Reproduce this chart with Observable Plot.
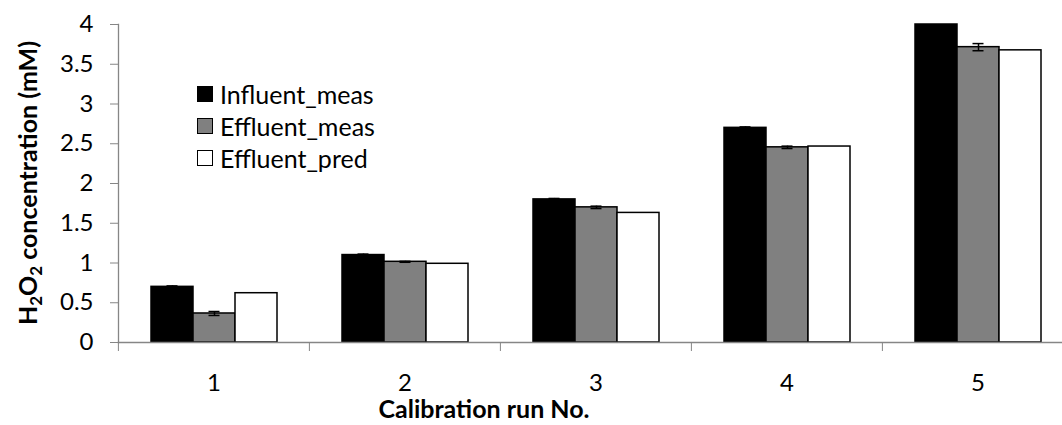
<!DOCTYPE html>
<html><head><meta charset="utf-8">
<script src="https://cdn.jsdelivr.net/npm/d3@7"></script>
<script src="https://cdn.jsdelivr.net/npm/@observablehq/plot@0.6"></script>
<style>
body{margin:0;background:#fff;}
#wrap{position:relative;width:1062px;height:425px;overflow:hidden;font-family:Lato,"Open Sans",sans-serif;color:#000;}
#wrap svg{display:block;}
.ytitle{position:absolute;left:27px;top:183px;transform:translate(-50%,-50%) rotate(-90deg);white-space:nowrap;font-weight:bold;font-size:25px;}
.ytitle sub{font-size:17px;vertical-align:-5px;line-height:0;}
.xtitle{position:absolute;left:484px;top:408px;transform:translate(-50%,-50%);white-space:nowrap;font-weight:bold;font-size:25px;}
.legend{position:absolute;left:197px;top:78px;font-size:25px;}
.legend .row{display:flex;align-items:center;height:32px;}
.legend .sw{width:14px;height:14px;border:1px solid #000;margin-right:7px;}
</style></head><body><div id="wrap"></div>
<script>
const runs = ["1", "2", "3", "4", "5"];
const seriesNames = ["Influent_meas", "Effluent_meas", "Effluent_pred"];
const influentMeas = [0.70, 1.10, 1.80, 2.70, 4.00];
const influentErr = [0.012, 0.012, 0.012, 0.012, 0.02];
const effluentMeas = [0.365, 1.015, 1.70, 2.455, 3.715];
const effluentErr = [0.025, 0.006, 0.015, 0.015, 0.045];
const effluentPred = [0.62, 0.99, 1.63, 2.465, 3.675];
const seriesColors = ["#000000", "#808080", "#ffffff"];
const yTicks = [0, 0.5, 1, 1.5, 2, 2.5, 3, 3.5, 4];
const xTitle = "Calibration run No.";

const rows = [];
runs.forEach((r, i) => {
  rows.push({run: r, series: seriesNames[0], value: influentMeas[i], err: influentErr[i]});
  rows.push({run: r, series: seriesNames[1], value: effluentMeas[i], err: effluentErr[i]});
  rows.push({run: r, series: seriesNames[2], value: effluentPred[i], err: null});
});
const errRows = rows.filter(d => d.err != null);

const W = 1062, H = 425, ML = 117, MR = -11, MT = 24, MB = 83;
const band = (W - ML - MR) / runs.length;
const axisGray = "#868686";

const chart = Plot.plot({
  width: W, height: H,
  marginLeft: ML, marginRight: MR, marginTop: MT, marginBottom: MB,
  style: {fontFamily: "Lato, 'Open Sans', sans-serif", fontSize: "24px", color: "#000", background: "#fff", overflow: "visible"},
  fx: {domain: runs, paddingInner: 0, paddingOuter: 0, axis: null, label: null},
  x: {domain: seriesNames, paddingInner: 0, paddingOuter: 0.73, axis: null},
  y: {domain: [0, 4], axis: null},
  color: {domain: seriesNames, range: seriesColors},
  marks: [
    Plot.barY(rows, {fx: "run", x: "series", y: "value", fill: "series", stroke: "#000", strokeWidth: 1.5}),
    Plot.ruleX(errRows, {fx: "run", x: "series", y1: d => d.value - d.err, y2: d => d.value + d.err, stroke: "#000", strokeWidth: 1.5, clip: true}),
    Plot.tickY(errRows, {fx: "run", x: "series", y: d => d.value + d.err, stroke: "#000", strokeWidth: 1.5, insetLeft: 15.5, insetRight: 15.5, clip: true}),
    Plot.tickY(errRows, {fx: "run", x: "series", y: d => d.value - d.err, stroke: "#000", strokeWidth: 1.5, insetLeft: 15.5, insetRight: 15.5, clip: true}),
    Plot.frame({anchor: "left", stroke: axisGray, strokeWidth: 1.3, facet: "super"}),
    Plot.frame({anchor: "bottom", stroke: axisGray, strokeWidth: 1.3, facet: "super"}),
    Plot.axisY({ticks: yTicks, tickSize: 8, tickPadding: 17, stroke: axisGray, fill: "#000", tickFormat: d => String(d), label: null, fontSize: 24}),
    Plot.axisFx({anchor: "bottom", tickSize: 9, stroke: axisGray, text: null, dx: -band / 2, label: null}),
    Plot.axisFx({anchor: "bottom", tickSize: 0, tickPadding: 31, fill: "#000", label: null, fontSize: 24})
  ]
});

const wrap = document.getElementById("wrap");
wrap.appendChild(chart);

const yt = document.createElement("div");
yt.className = "ytitle";
yt.innerHTML = "H<sub>2</sub>O<sub>2</sub> concentration (mM)";
wrap.appendChild(yt);

const xt = document.createElement("div");
xt.className = "xtitle";
xt.textContent = xTitle;
wrap.appendChild(xt);

const lg = document.createElement("div");
lg.className = "legend";
seriesNames.forEach((s, i) => {
  const row = document.createElement("div");
  row.className = "row";
  const sw = document.createElement("div");
  sw.className = "sw";
  sw.style.background = seriesColors[i];
  const t = document.createElement("span");
  t.textContent = s;
  row.appendChild(sw); row.appendChild(t);
  lg.appendChild(row);
});
wrap.appendChild(lg);
</script>
</body></html>
